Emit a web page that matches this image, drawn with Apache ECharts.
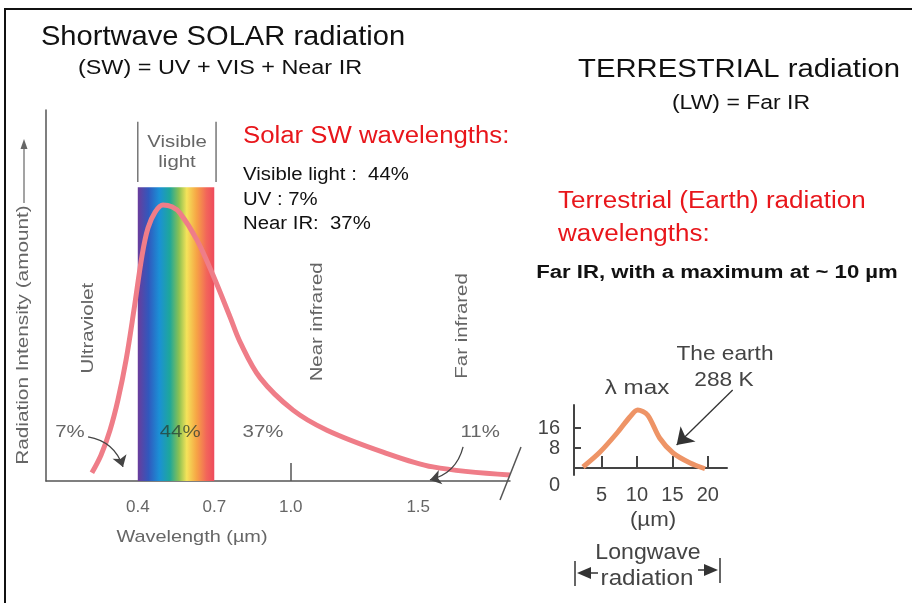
<!DOCTYPE html>
<html><head><meta charset="utf-8">
<script src="https://cdn.jsdelivr.net/npm/echarts@6/dist/echarts.min.js"></script>
<style>html,body{margin:0;padding:0;background:#fff}#c{width:912px;height:603px}</style>
</head><body><div id="c"></div>
<script>
// ---- Data: solar (shortwave) spectrum, relative intensity vs wavelength (µm)
const solarWavelength = [0.22, 0.256, 0.291, 0.322, 0.354, 0.385, 0.417, 0.44, 0.468, 0.499, 0.534, 0.566, 0.632, 0.695, 0.762, 0.801, 0.88, 1.009, 1.142, 1.362, 1.558, 1.86];
const solarIntensity  = [2.2, 7.0, 13.7, 21.8, 32.6, 46.1, 60.9, 68.2, 72.5, 74.4, 73.9, 72.2, 65.0, 55.5, 44.2, 37.5, 27.8, 19.1, 13.7, 7.8, 3.8, 1.6];
const visibleBand = [0.4, 0.7];          // visible light range (µm)
const visibleBandTop = 79.2;             // band height (intensity units)
const solarTickLabels = [0.4, 0.7, 1.0, 1.5];
const solarTicks = [1.0];
const percentLabels = ['7%', '44%', '37%', '11%'];
const percentAt = [0.134, 0.566, 0.891, 1.743];
const regionNames = ['Ultraviolet', 'Near infrared', 'Far infrared'];
const regionAt = [0.205, 1.103, 1.672];

// ---- Data: terrestrial (Earth, 288 K) longwave emission
const earthWavelength = [2.4, 4.8, 7.2, 9.0, 10.1, 11.5, 13.2, 15.1, 17.5, 19.6];
const earthIntensity  = [0.4, 6.4, 14, 20.4, 23.2, 21.2, 12, 6, 2, -0.3];
const earthXTickLabels = [5, 10, 15, 20];
const earthYTickLabels = [0, 8, 16];
const earthYTicks = [8, 16];

const FONT = '"Liberation Sans", Arial, sans-serif';
const GRAY = '#666';
const RED = '#e8161b';

const chart = echarts.init(document.getElementById('c'), null, {renderer: 'canvas'});

const rainbow = new echarts.graphic.LinearGradient(0, 0, 1, 0, [
  {offset: 0, color: '#6a3c9c'},
  {offset: 0.14, color: '#3158bd'},
  {offset: 0.28, color: '#1b90d6'},
  {offset: 0.42, color: '#1ea79a'},
  {offset: 0.54, color: '#8cc152'},
  {offset: 0.64, color: '#f4e35a'},
  {offset: 0.77, color: '#f6a445'},
  {offset: 0.9, color: '#f2655a'},
  {offset: 1, color: '#ee4a5c'}
]);

function txt(x, y, text, size, color, sx, opts) {
  return Object.assign({
    type: 'text', x: x, y: y, z: 10, scaleX: sx || 1,
    style: Object.assign({text: text, font: size + 'px ' + FONT, fill: color, align: 'center', verticalAlign: 'middle'}, (opts && opts.style) || {})
  }, (opts && opts.el) || {});
}
const L = {style: {align: 'left'}};

const graphics = [
  // frame
  {type: 'rect', shape: {x: 5, y: 9, width: 920, height: 610}, style: {fill: 'none', stroke: '#111', lineWidth: 2}, z: 10},
  // titles
  txt(223, 37, 'Shortwave SOLAR radiation', 28, '#111', 1.04),
  txt(220, 68, '(SW) = UV + VIS + Near IR', 20, '#111', 1.17),
  txt(739, 70, 'TERRESTRIAL radiation', 25, '#111', 1.17),
  txt(741, 103, '(LW) = Far IR', 20, '#111', 1.15),
  txt(243, 137, 'Solar SW wavelengths:', 23, RED, 1.12, L),
  txt(243, 175, 'Visible light :  44%', 18, '#111', 1.13, L),
  txt(243, 200, 'UV : 7%', 18, '#111', 1.13, L),
  txt(243, 224, 'Near IR:  37%', 18, '#111', 1.13, L),
  txt(558, 202, 'Terrestrial (Earth) radiation', 23, RED, 1.13, L),
  txt(558, 235, 'wavelengths:', 23, RED, 1.13, L),
  txt(717, 273, 'Far IR, with a maximum at ~ 10 µm', 18, '#111', 1.23, {style: {font: 'bold 18px ' + FONT}}),
  // axis names (main)
  txt(192, 537, 'Wavelength (µm)', 17, GRAY, 1.17),
  txt(23, 335, 'Radiation Intensity (amount)', 17, GRAY, 1.22, {el: {rotation: Math.PI / 2}}),
  {type: 'line', shape: {x1: 24, y1: 203, x2: 24, y2: 146}, style: {stroke: GRAY, lineWidth: 1.2}, z: 10},
  {type: 'polygon', shape: {points: [[24, 139], [20.5, 149], [27.5, 149]]}, style: {fill: GRAY}, z: 10},
  // axis break
  {type: 'line', shape: {x1: 500, y1: 500, x2: 521, y2: 447}, style: {stroke: '#555', lineWidth: 1.5}, z: 10},
  // inset texts
  txt(653, 520, '(µm)', 21, '#444', 1.06),
  txt(637, 388, 'λ max', 21, '#444', 1.15),
  txt(725, 354, 'The earth', 21, '#444', 1.08),
  txt(724, 380, '288 K', 21, '#444', 1.08),
  txt(648, 553, 'Longwave', 22, '#444', 1.05),
  txt(647, 579, 'radiation', 22, '#444', 1.1),
  // longwave arrows
  {type: 'line', shape: {x1: 575, y1: 561, x2: 575, y2: 586}, style: {stroke: '#333', lineWidth: 1.5}, z: 10},
  {type: 'polygon', shape: {points: [[577, 573], [591, 567], [591, 579]]}, style: {fill: '#333'}, z: 10},
  {type: 'line', shape: {x1: 591, y1: 573, x2: 598, y2: 573}, style: {stroke: '#333', lineWidth: 1.5}, z: 10},
  {type: 'line', shape: {x1: 720, y1: 558, x2: 720, y2: 583}, style: {stroke: '#333', lineWidth: 1.5}, z: 10},
  {type: 'polygon', shape: {points: [[718, 570], [704, 564], [704, 576]]}, style: {fill: '#333'}, z: 10},
  {type: 'line', shape: {x1: 698, y1: 570, x2: 704, y2: 570}, style: {stroke: '#333', lineWidth: 1.5}, z: 10}
];

// annotation texts placed in data coordinates: [wavelength, intensity, text, rotated, colour]
const annotations = [];
regionNames.forEach((n, i) => annotations.push([regionAt[i], [41.2, 42.9, 41.8][i], n, 1, GRAY]));
percentLabels.forEach((p, i) => annotations.push([percentAt[i], 13.2, p, 0, i === 1 ? 'rgba(40,60,50,0.75)' : GRAY]));
annotations.push([0.554, 91.4, 'Visible', 0, GRAY]);
annotations.push([0.554, 86.0, 'light', 0, GRAY]);

chart.setOption({
  animation: false,
  backgroundColor: '#fff',
  grid: [
    {left: 46, top: 110, width: 464, height: 371},
    {left: 574, top: 405, width: 153, height: 70}
  ],
  xAxis: [
    {
      gridIndex: 0, type: 'value', min: 0.04, max: 1.86,
      axisLine: {show: true, lineStyle: {color: '#555', width: 1.5}},
      axisTick: {show: true, inside: true, length: 18, customValues: solarTicks, lineStyle: {color: '#555', width: 1.5}},
      axisLabel: {show: true, customValues: solarTickLabels, formatter: v => v.toFixed(1), margin: 18, fontSize: 17, color: GRAY, fontFamily: FONT},
      splitLine: {show: false}
    },
    {
      gridIndex: 1, type: 'value', min: 1.13, max: 22.7,
      axisLine: {show: true, lineStyle: {color: '#444', width: 2}},
      axisTick: {show: true, inside: true, length: 12, customValues: earthXTickLabels, lineStyle: {color: '#444', width: 2}},
      axisLabel: {show: true, customValues: earthXTickLabels, margin: 10, fontSize: 20, color: '#444', fontFamily: FONT},
      splitLine: {show: false}
    }
  ],
  yAxis: [
    {
      gridIndex: 0, type: 'value', min: 0, max: 100,
      axisLine: {show: true, lineStyle: {color: '#555', width: 1.5}},
      axisTick: {show: false}, axisLabel: {show: false}, splitLine: {show: false}
    },
    {
      gridIndex: 1, type: 'value', min: -2.8, max: 25.2,
      axisLine: {show: true, lineStyle: {color: '#444', width: 2}},
      axisTick: {show: true, inside: true, length: 7, customValues: earthYTicks, lineStyle: {color: '#444', width: 2}},
      axisLabel: {show: true, customValues: earthYTickLabels, margin: 14, fontSize: 20, color: '#444', fontFamily: FONT,
        formatter: v => v === 0 ? '{z|0}' : String(v), rich: {z: {fontSize: 20, color: '#444', fontFamily: FONT, padding: [34, 0, 0, 0]}}},
      splitLine: {show: false}
    }
  ],
  graphic: graphics,
  series: [
    {
      type: 'custom', xAxisIndex: 0, yAxisIndex: 0, z: 1, silent: true,
      data: [[visibleBand[0], visibleBand[1], visibleBandTop]],
      renderItem: (params, api) => {
        const p0 = api.coord([api.value(0), api.value(2)]);
        const p1 = api.coord([api.value(1), 0]);
        const q0 = api.coord([api.value(0), 96.8]);
        const q1 = api.coord([0.707, 80.6]);
        return {type: 'group', children: [
          {type: 'rect', shape: {x: p0[0], y: p0[1], width: p1[0] - p0[0], height: p1[1] - p0[1]}, style: {fill: rainbow}},
          {type: 'line', shape: {x1: q0[0], y1: q0[1], x2: q0[0], y2: q1[1]}, style: {stroke: '#777', lineWidth: 1.5}},
          {type: 'line', shape: {x1: q1[0], y1: q0[1], x2: q1[0], y2: q1[1]}, style: {stroke: '#777', lineWidth: 1.5}}
        ]};
      }
    },
    {
      type: 'line', xAxisIndex: 0, yAxisIndex: 0, z: 3, smooth: 0.35, symbol: 'none',
      data: solarWavelength.map((w, i) => [w, solarIntensity[i]]),
      lineStyle: {color: '#ef7d88', width: 5}
    },
    {
      type: 'custom', xAxisIndex: 0, yAxisIndex: 0, z: 4, silent: true,
      data: annotations,
      renderItem: (params, api) => {
        const a = annotations[params.dataIndex];
        const p = api.coord([a[0], a[1]]);
        return {type: 'text', x: p[0], y: p[1], rotation: a[3] ? Math.PI / 2 : 0, scaleX: 1.2,
          style: {text: a[2], font: '17px ' + FONT, fill: a[4], align: 'center', verticalAlign: 'middle'}};
      }
    },
    {
      type: 'lines', coordinateSystem: 'cartesian2d', xAxisIndex: 0, yAxisIndex: 0, z: 5, clip: false,
      symbol: ['none', 'arrow'], symbolSize: 11,
      lineStyle: {color: '#444', width: 1.3, curveness: 0.3, opacity: 1},
      data: [
        {coords: [[0.205, 11.9], [0.342, 3.8]]},
        {coords: [[1.676, 9.2], [1.546, 0.3]]}
      ]
    },
    {
      type: 'line', xAxisIndex: 1, yAxisIndex: 1, z: 3, smooth: 0.3, symbol: 'none',
      data: earthWavelength.map((w, i) => [w, earthIntensity[i]]),
      lineStyle: {color: '#ee9466', width: 5}
    },
    {
      type: 'lines', coordinateSystem: 'cartesian2d', xAxisIndex: 1, yAxisIndex: 1, z: 5, clip: false,
      symbol: ['none', 'arrow'], symbolSize: 16,
      lineStyle: {color: '#333', width: 1.3, curveness: 0, opacity: 1},
      data: [{coords: [[23.5, 31.2], [15.6, 9.2]]}]
    }
  ]
});
</script>
</body></html>
